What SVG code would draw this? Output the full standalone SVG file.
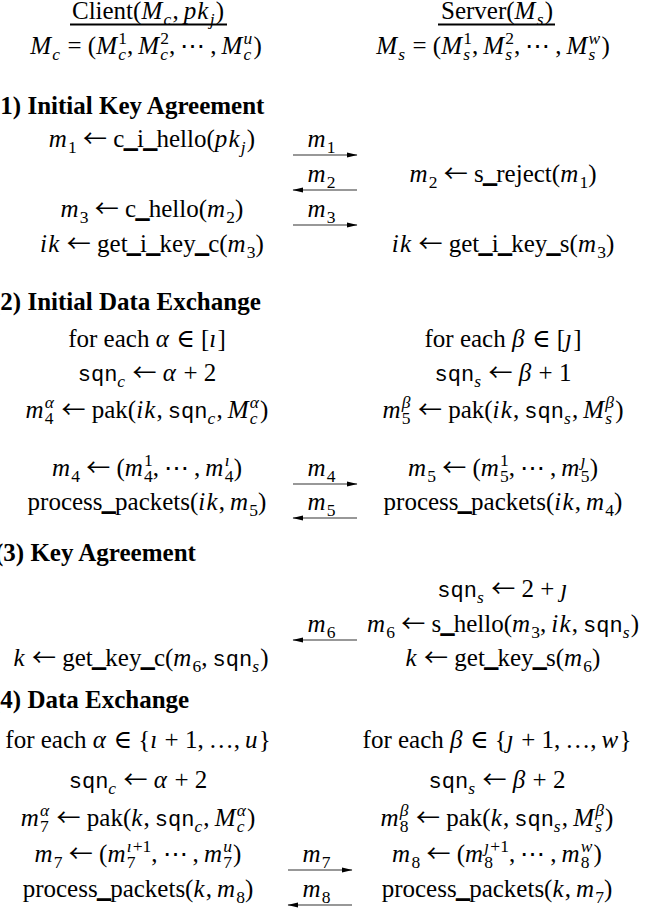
<svg xmlns="http://www.w3.org/2000/svg" width="655" height="917" viewBox="0 0 655 917">
<style>
text{font-family:"Liberation Serif","DejaVu Serif",serif;font-size:25px;fill:#000}
.m{text-anchor:middle}
.i{font-style:italic;letter-spacing:1.2px}
.tt{font-family:"Liberation Mono","DejaVu Sans Mono",monospace;font-size:22px;font-style:normal;letter-spacing:0}
.s{font-size:17.5px}
.h{font-weight:bold}
.u{stroke:#000;stroke-width:1.6}
.la{font-family:"Noto Sans CJK JP","DejaVu Sans",sans-serif;font-size:24px;font-style:normal}
.ar{stroke:#333;stroke-width:1.2;fill:none}
.lb{font-style:italic;text-anchor:middle;letter-spacing:1px}
</style>
<defs>
<marker id="ah" markerWidth="11" markerHeight="8" refX="10" refY="4" orient="auto-start-reverse" markerUnits="userSpaceOnUse"><path d="M0,1.4 L10.5,4 L0,6.6 z" fill="#000"/></marker>
</defs>
<rect width="655" height="917" fill="#fff"/>

<g id="client-header">
<text class="m" x="148" y="19">Client(<tspan class="i">M</tspan><tspan class="i s" dy="6">c</tspan><tspan dy="-6">,&#8201;</tspan><tspan class="i">pk</tspan><tspan class="i s" dy="6">j</tspan><tspan dy="-6">)</tspan></text>
<line x1="70" y1="24.5" x2="227" y2="24.5" stroke="#000" stroke-width="2"/>
</g>
<g id="server-header">
<text class="m" x="497" y="19">Server(<tspan class="i">M</tspan><tspan class="i s" dy="6">s</tspan><tspan dy="-6">)</tspan></text>
<line x1="438" y1="24.5" x2="555" y2="24.5" stroke="#000" stroke-width="2"/>
</g>
<g id="client-msgs">
<text class="m" x="146" y="54"><tspan class="i">M</tspan><tspan class="i s" dy="6">c</tspan><tspan dy="-6"> = (</tspan><tspan class="i">M</tspan><tspan class="i s" dy="6">c</tspan><tspan class="s" dx="-9" dy="-16">1</tspan><tspan dy="10">,&#8201;</tspan><tspan class="i">M</tspan><tspan class="i s" dy="6">c</tspan><tspan class="s" dx="-9" dy="-16">2</tspan><tspan dy="10">,&#8201;⋯&#8201;,&#8201;</tspan><tspan class="i">M</tspan><tspan class="i s" dy="6">c</tspan><tspan class="i s" dx="-9" dy="-16">u</tspan><tspan dy="10">)</tspan></text>
</g>
<g id="server-msgs">
<text class="m" x="493" y="54"><tspan class="i">M</tspan><tspan class="i s" dy="6">s</tspan><tspan dy="-6"> = (</tspan><tspan class="i">M</tspan><tspan class="i s" dy="6">s</tspan><tspan class="s" dx="-8" dy="-16">1</tspan><tspan dy="10">,&#8201;</tspan><tspan class="i">M</tspan><tspan class="i s" dy="6">s</tspan><tspan class="s" dx="-8" dy="-16">2</tspan><tspan dy="10">,&#8201;⋯&#8201;,&#8201;</tspan><tspan class="i">M</tspan><tspan class="i s" dy="6">s</tspan><tspan class="i s" dx="-8" dy="-16">w</tspan><tspan dy="10">)</tspan></text>
</g>

<g id="sec1-title"><text class="h" x="-8" y="114">(1) Initial Key Agreement</text></g>
<g id="s1-c-hello-i"><text class="m" x="152" y="147"><tspan class="i">m</tspan><tspan class="s" dy="6">1</tspan><tspan dy="-6"> <tspan class="la">←</tspan> c<tspan class="u">_</tspan>i<tspan class="u">_</tspan>hello(</tspan><tspan class="i">pk</tspan><tspan class="i s" dy="6">j</tspan><tspan dy="-6">)</tspan></text></g>
<g id="s1-s-reject"><text class="m" x="503" y="182"><tspan class="i">m</tspan><tspan class="s" dy="6">2</tspan><tspan dy="-6"> <tspan class="la">←</tspan> s<tspan class="u">_</tspan>reject(</tspan><tspan class="i">m</tspan><tspan class="s" dy="6">1</tspan><tspan dy="-6">)</tspan></text></g>
<g id="s1-c-hello"><text class="m" x="152" y="217"><tspan class="i">m</tspan><tspan class="s" dy="6">3</tspan><tspan dy="-6"> <tspan class="la">←</tspan> c<tspan class="u">_</tspan>hello(</tspan><tspan class="i">m</tspan><tspan class="s" dy="6">2</tspan><tspan dy="-6">)</tspan></text></g>
<g id="s1-key-c"><text class="m" x="152" y="252"><tspan class="i">ik</tspan> <tspan class="la">←</tspan> get<tspan class="u">_</tspan>i<tspan class="u">_</tspan>key<tspan class="u">_</tspan>c(<tspan class="i">m</tspan><tspan class="s" dy="6">3</tspan><tspan dy="-6">)</tspan></text></g>
<g id="s1-key-s"><text class="m" x="503" y="252"><tspan class="i">ik</tspan> <tspan class="la">←</tspan> get<tspan class="u">_</tspan>i<tspan class="u">_</tspan>key<tspan class="u">_</tspan>s(<tspan class="i">m</tspan><tspan class="s" dy="6">3</tspan><tspan dy="-6">)</tspan></text></g>

<g id="sec2-title"><text class="h" x="-8" y="310">(2) Initial Data Exchange</text></g>
<g id="s2-c-loop"><text class="m" x="147" y="347">for each <tspan class="i">α</tspan> ∈ [<tspan class="i">ı</tspan>]</text></g>
<g id="s2-s-loop"><text class="m" x="503" y="347">for each <tspan class="i">β</tspan> ∈ [<tspan class="i">ȷ</tspan>]</text></g>
<g id="s2-c-sqn"><text class="m" x="147" y="381"><tspan class="tt">sqn</tspan><tspan class="i s" dy="6">c</tspan><tspan dy="-6"> <tspan class="la">←</tspan> </tspan><tspan class="i">α</tspan> + 2</text></g>
<g id="s2-s-sqn"><text class="m" x="503" y="381"><tspan class="tt">sqn</tspan><tspan class="i s" dy="6">s</tspan><tspan dy="-6"> <tspan class="la">←</tspan> </tspan><tspan class="i">β</tspan> + 1</text></g>
<g id="s2-c-pak"><text class="m" x="147" y="418"><tspan class="i">m</tspan><tspan class="s" dy="6">4</tspan><tspan class="i s" dx="-8.75" dy="-16">α</tspan><tspan dy="10"> <tspan class="la">←</tspan> pak(</tspan><tspan class="i">ik</tspan>,&#8201;<tspan class="tt">sqn</tspan><tspan class="i s" dy="6">c</tspan><tspan dy="-6">,&#8201;</tspan><tspan class="i">M</tspan><tspan class="i s" dy="6">c</tspan><tspan class="i s" dx="-9" dy="-16">α</tspan><tspan dy="10">)</tspan></text></g>
<g id="s2-s-pak"><text class="m" x="503" y="418"><tspan class="i">m</tspan><tspan class="s" dy="6">5</tspan><tspan class="i s" dx="-8.75" dy="-16">β</tspan><tspan dy="10"> <tspan class="la">←</tspan> pak(</tspan><tspan class="i">ik</tspan>,&#8201;<tspan class="tt">sqn</tspan><tspan class="i s" dy="6">s</tspan><tspan dy="-6">,&#8201;</tspan><tspan class="i">M</tspan><tspan class="i s" dy="6">s</tspan><tspan class="i s" dx="-8" dy="-16">β</tspan><tspan dy="10">)</tspan></text></g>
<g id="s2-c-m4"><text class="m" x="147" y="476"><tspan class="i">m</tspan><tspan class="s" dy="6">4</tspan><tspan dy="-6"> <tspan class="la">←</tspan> (</tspan><tspan class="i">m</tspan><tspan class="s" dy="6">4</tspan><tspan class="s" dx="-8.75" dy="-16">1</tspan><tspan dy="10">,&#8201;⋯&#8201;,&#8201;</tspan><tspan class="i">m</tspan><tspan class="s" dy="6">4</tspan><tspan class="i s" dx="-8.75" dy="-16">ı</tspan><tspan dx="3" dy="10">)</tspan></text></g>
<g id="s2-s-m5"><text class="m" x="503" y="476"><tspan class="i">m</tspan><tspan class="s" dy="6">5</tspan><tspan dy="-6"> <tspan class="la">←</tspan> (</tspan><tspan class="i">m</tspan><tspan class="s" dy="6">5</tspan><tspan class="s" dx="-8.75" dy="-16">1</tspan><tspan dy="10">,&#8201;⋯&#8201;,&#8201;</tspan><tspan class="i">m</tspan><tspan class="s" dy="6">5</tspan><tspan class="i s" dx="-8.75" dy="-16">ȷ</tspan><tspan dx="3" dy="10">)</tspan></text></g>
<g id="s2-c-proc"><text class="m" x="147" y="510">process<tspan class="u">_</tspan>packets(<tspan class="i">ik</tspan>,&#8201;<tspan class="i">m</tspan><tspan class="s" dy="6">5</tspan><tspan dy="-6">)</tspan></text></g>
<g id="s2-s-proc"><text class="m" x="503" y="510">process<tspan class="u">_</tspan>packets(<tspan class="i">ik</tspan>,&#8201;<tspan class="i">m</tspan><tspan class="s" dy="6">4</tspan><tspan dy="-6">)</tspan></text></g>

<g id="sec3-title"><text class="h" x="-5" y="561">(3) Key Agreement</text></g>
<g id="s3-s-sqn"><text class="m" x="503" y="597"><tspan class="tt">sqn</tspan><tspan class="i s" dy="6">s</tspan><tspan dy="-6"> <tspan class="la">←</tspan> 2 + </tspan><tspan class="i">ȷ</tspan></text></g>
<g id="s3-s-hello"><text class="m" x="503" y="632"><tspan class="i">m</tspan><tspan class="s" dy="6">6</tspan><tspan dy="-6"> <tspan class="la">←</tspan> s<tspan class="u">_</tspan>hello(</tspan><tspan class="i">m</tspan><tspan class="s" dy="6">3</tspan><tspan dy="-6">,&#8201;</tspan><tspan class="i">ik</tspan>,&#8201;<tspan class="tt">sqn</tspan><tspan class="i s" dy="6">s</tspan><tspan dy="-6">)</tspan></text></g>
<g id="s3-c-key"><text class="m" x="141" y="666"><tspan class="i">k</tspan> <tspan class="la">←</tspan> get<tspan class="u">_</tspan>key<tspan class="u">_</tspan>c(<tspan class="i">m</tspan><tspan class="s" dy="6">6</tspan><tspan dy="-6">,&#8201;</tspan><tspan class="tt">sqn</tspan><tspan class="i s" dy="6">s</tspan><tspan dy="-6">)</tspan></text></g>
<g id="s3-s-key"><text class="m" x="503" y="666"><tspan class="i">k</tspan> <tspan class="la">←</tspan> get<tspan class="u">_</tspan>key<tspan class="u">_</tspan>s(<tspan class="i">m</tspan><tspan class="s" dy="6">6</tspan><tspan dy="-6">)</tspan></text></g>

<g id="sec4-title"><text class="h" x="-8" y="708">(4) Data Exchange</text></g>
<g id="s4-c-loop"><text class="m" x="138" y="748">for each <tspan class="i">α</tspan> ∈ {<tspan class="i">ı</tspan> + 1,&#8201;…,&#8201;<tspan class="i">u</tspan>}</text></g>
<g id="s4-s-loop"><text class="m" x="497" y="748">for each <tspan class="i">β</tspan> ∈ {<tspan class="i">ȷ</tspan> + 1,&#8201;…,&#8201;<tspan class="i">w</tspan>}</text></g>
<g id="s4-c-sqn"><text class="m" x="138" y="788"><tspan class="tt">sqn</tspan><tspan class="i s" dy="6">c</tspan><tspan dy="-6"> <tspan class="la">←</tspan> </tspan><tspan class="i">α</tspan> + 2</text></g>
<g id="s4-s-sqn"><text class="m" x="497" y="788"><tspan class="tt">sqn</tspan><tspan class="i s" dy="6">s</tspan><tspan dy="-6"> <tspan class="la">←</tspan> </tspan><tspan class="i">β</tspan> + 2</text></g>
<g id="s4-c-pak"><text class="m" x="138" y="826"><tspan class="i">m</tspan><tspan class="s" dy="6">7</tspan><tspan class="i s" dx="-8.75" dy="-16">α</tspan><tspan dy="10"> <tspan class="la">←</tspan> pak(</tspan><tspan class="i">k</tspan>,&#8201;<tspan class="tt">sqn</tspan><tspan class="i s" dy="6">c</tspan><tspan dy="-6">,&#8201;</tspan><tspan class="i">M</tspan><tspan class="i s" dy="6">c</tspan><tspan class="i s" dx="-9" dy="-16">α</tspan><tspan dy="10">)</tspan></text></g>
<g id="s4-s-pak"><text class="m" x="497" y="826"><tspan class="i">m</tspan><tspan class="s" dy="6">8</tspan><tspan class="i s" dx="-8.75" dy="-16">β</tspan><tspan dy="10"> <tspan class="la">←</tspan> pak(</tspan><tspan class="i">k</tspan>,&#8201;<tspan class="tt">sqn</tspan><tspan class="i s" dy="6">s</tspan><tspan dy="-6">,&#8201;</tspan><tspan class="i">M</tspan><tspan class="i s" dy="6">s</tspan><tspan class="i s" dx="-8" dy="-16">β</tspan><tspan dy="10">)</tspan></text></g>
<g id="s4-c-m7"><text class="m" x="138" y="862"><tspan class="i">m</tspan><tspan class="s" dy="6">7</tspan><tspan dy="-6"> <tspan class="la">←</tspan> (</tspan><tspan class="i">m</tspan><tspan class="s" dy="6">7</tspan><tspan class="s" dx="-8.75" dy="-16"><tspan class="i">ı</tspan>+1</tspan><tspan dy="10">,&#8201;⋯&#8201;,&#8201;</tspan><tspan class="i">m</tspan><tspan class="s" dy="6">7</tspan><tspan class="i s" dx="-8.75" dy="-16">u</tspan><tspan dy="10">)</tspan></text></g>
<g id="s4-s-m8"><text class="m" x="497" y="862"><tspan class="i">m</tspan><tspan class="s" dy="6">8</tspan><tspan dy="-6"> <tspan class="la">←</tspan> (</tspan><tspan class="i">m</tspan><tspan class="s" dy="6">8</tspan><tspan class="s" dx="-8.75" dy="-16"><tspan class="i">ȷ</tspan>+1</tspan><tspan dy="10">,&#8201;⋯&#8201;,&#8201;</tspan><tspan class="i">m</tspan><tspan class="s" dy="6">8</tspan><tspan class="i s" dx="-8.75" dy="-16">w</tspan><tspan dy="10">)</tspan></text></g>
<g id="s4-c-proc"><text class="m" x="138" y="897">process<tspan class="u">_</tspan>packets(<tspan class="i">k</tspan>,&#8201;<tspan class="i">m</tspan><tspan class="s" dy="6">8</tspan><tspan dy="-6">)</tspan></text></g>
<g id="s4-s-proc"><text class="m" x="497" y="897">process<tspan class="u">_</tspan>packets(<tspan class="i">k</tspan>,&#8201;<tspan class="i">m</tspan><tspan class="s" dy="6">7</tspan><tspan dy="-6">)</tspan></text></g>

<g id="connectors">
<line class="ar" x1="293" y1="155" x2="357" y2="155" marker-end="url(#ah)"/>
<text class="lb" x="322" y="147">m<tspan class="s" font-style="normal" dy="6">1</tspan></text>
<line class="ar" x1="293" y1="190" x2="357" y2="190" marker-start="url(#ah)"/>
<text class="lb" x="322" y="182">m<tspan class="s" font-style="normal" dy="6">2</tspan></text>
<line class="ar" x1="293" y1="225" x2="357" y2="225" marker-end="url(#ah)"/>
<text class="lb" x="322" y="217">m<tspan class="s" font-style="normal" dy="6">3</tspan></text>
<line class="ar" x1="293" y1="484" x2="357" y2="484" marker-end="url(#ah)"/>
<text class="lb" x="322" y="476">m<tspan class="s" font-style="normal" dy="6">4</tspan></text>
<line class="ar" x1="293" y1="518" x2="357" y2="518" marker-start="url(#ah)"/>
<text class="lb" x="322" y="510">m<tspan class="s" font-style="normal" dy="6">5</tspan></text>
<line class="ar" x1="293" y1="640" x2="357" y2="640" marker-start="url(#ah)"/>
<text class="lb" x="322" y="632">m<tspan class="s" font-style="normal" dy="6">6</tspan></text>
<line class="ar" x1="288" y1="870" x2="352" y2="870" marker-end="url(#ah)"/>
<text class="lb" x="317" y="862">m<tspan class="s" font-style="normal" dy="6">7</tspan></text>
<line class="ar" x1="288" y1="905" x2="352" y2="905" marker-start="url(#ah)"/>
<text class="lb" x="317" y="897">m<tspan class="s" font-style="normal" dy="6">8</tspan></text>
</g>
</svg>
